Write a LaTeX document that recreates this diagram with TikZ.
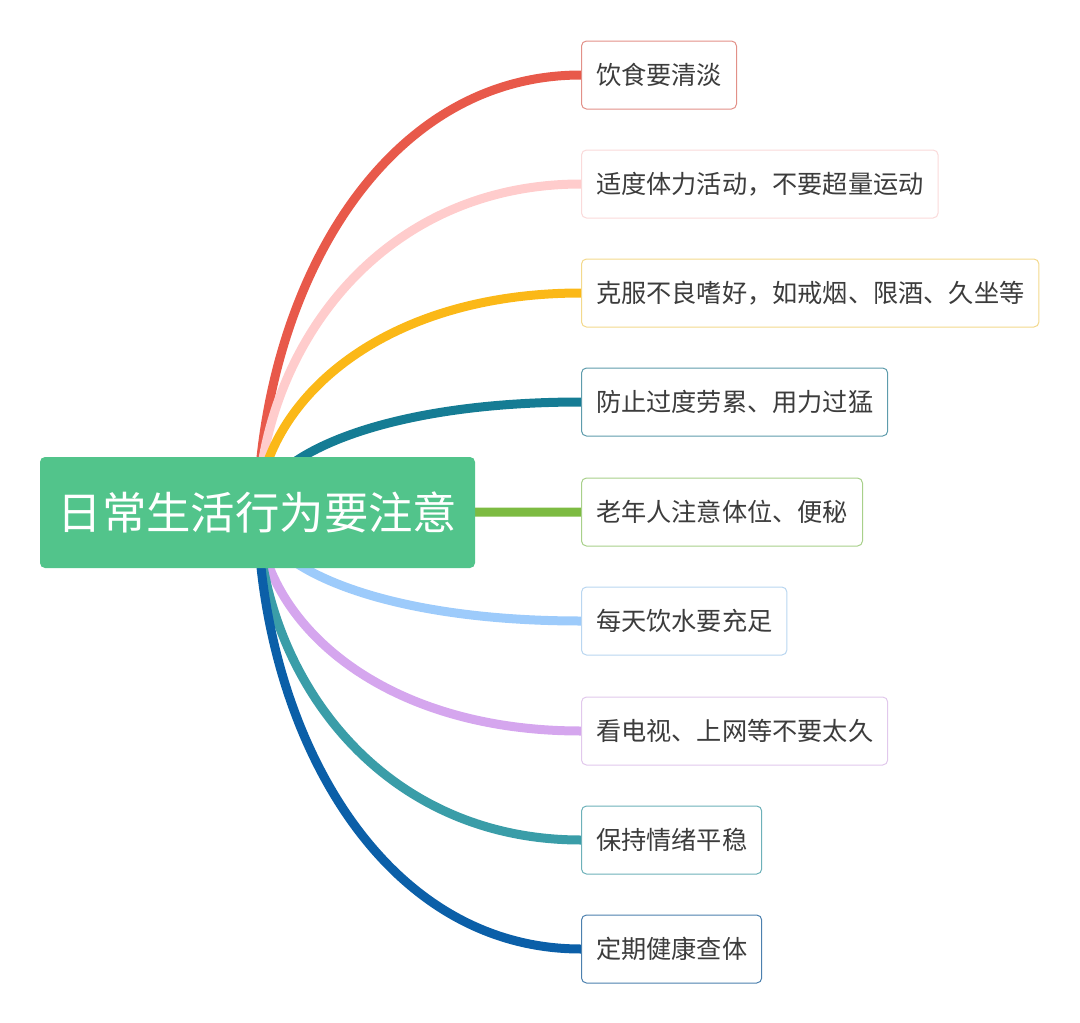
\documentclass[tikz,border=0pt]{standalone}
\usepackage{xcolor}
\usepackage{fontspec}
\newfontfamily\cjk{Noto Sans CJK SC}
\usepackage{tikz}
\usetikzlibrary{backgrounds}
\definecolor{rootgreen}{HTML}{52C48B}
\definecolor{txtgray}{HTML}{3C3C3C}
\definecolor{lA}{HTML}{E8594A}\definecolor{bA}{HTML}{E29088}
\definecolor{lB}{HTML}{FFCCCC}\definecolor{bB}{HTML}{FADADA}
\definecolor{lC}{HTML}{FBB817}\definecolor{bC}{HTML}{F3D98C}
\definecolor{lD}{HTML}{157C94}\definecolor{bD}{HTML}{5E9CAC}
\definecolor{lE}{HTML}{7DBB42}\definecolor{bE}{HTML}{A8D08A}
\definecolor{lF}{HTML}{9DCBFB}\definecolor{bF}{HTML}{B9D6F0}
\definecolor{lG}{HTML}{D5A6EE}\definecolor{bG}{HTML}{E1C8EC}
\definecolor{lH}{HTML}{3A9DA8}\definecolor{bH}{HTML}{6DB1B9}
\definecolor{lI}{HTML}{0B5FA8}\definecolor{bI}{HTML}{4C80AE}
\tikzset{
  topic/.style={fill=rootgreen, rounded corners=5pt, inner sep=0pt, minimum width=435pt,
    minimum height=111pt, text=white, font=\cjk\fontsize{44.4}{50}\selectfont},
  subtopic/.style={draw=#1, fill=white, rounded corners=5pt, line width=1pt, inner ysep=0pt,
    inner xsep=14.5pt, minimum height=68pt, anchor=west, text=txtgray,
    font=\cjk\fontsize{25.2}{30}\selectfont},
  branch/.style={draw=#1, line width=9pt}
}
\begin{document}
\begin{tikzpicture}[x=1pt,y=1pt,yscale=-1,xscale=1]
\useasboundingbox (0,0) rectangle (1080,1023);
%Shape
\node [topic] (root) at (257.5,512.5) {日常生活行为要注意};
%Text
\foreach \i/\y/\lc/\bc/\t in {1/75/lA/bA/饮食要清淡, 2/184/lB/bB/适度体力活动，不要超量运动,
  3/293/lC/bC/克服不良嗜好，如戒烟、限酒、久坐等, 4/402/lD/bD/防止过度劳累、用力过猛,
  5/512/lE/bE/老年人注意体位、便秘, 6/621/lF/bF/每天饮水要充足,
  7/731/lG/bG/看电视、上网等不要太久, 8/840/lH/bH/保持情绪平稳, 9/949/lI/bI/定期健康查体}{
  \node [subtopic=\bc] (b\i) at (581,\y) {\t};
  \pgfmathsetmacro\ym{(512+\y)/2}
  \begin{scope}[on background layer]
  \draw [branch=\lc] (root.center) .. controls (262,\ym) and (380,\y) .. (b\i.west);
  \end{scope}
}
\end{tikzpicture}
\end{document}
